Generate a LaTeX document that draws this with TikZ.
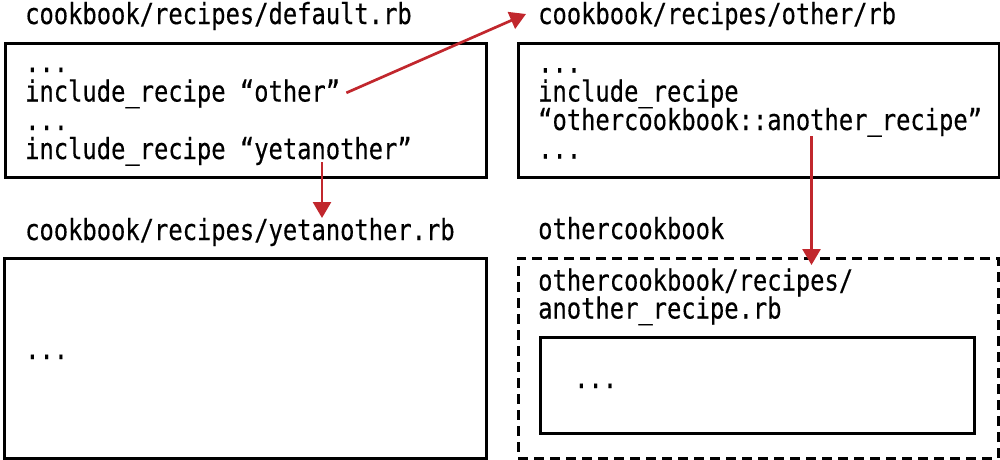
\documentclass[tikz,border=0pt]{standalone}
\usepackage{fontspec}
\setmonofont[FakeStretch=0.82, FakeBold=0.35]{DejaVu Sans Mono}
\usetikzlibrary{arrows.meta}
\definecolor{arrowred}{HTML}{C1272D}
\tikzset{
    filebox/.style={draw, rectangle, line width=3pt, anchor=north west, inner sep=0pt},
    codeline/.style={anchor=base west, inner sep=0pt, font=\ttfamily\fontsize{29}{29}\selectfont},
    recipearrow/.style={-{Triangle[length=16pt,width=18pt]}, draw=arrowred, fill=arrowred, line width=2.7pt},
}
\begin{document}
\begin{tikzpicture}[x=1pt, y=-1pt]
        \useasboundingbox (0,0) rectangle (1000,459);

        % default.rb
        % Define the nodes
        \node[codeline] (deftitle) at (25,24) {cookbook/recipes/default.rb};
        \node[filebox, minimum width=481pt, minimum height=134pt] (defbox) at (4,41.5) {};
        \node[codeline] (defdots) at (25,72) {...};
        \node[codeline] (incother) at (25,101.5) {include\_recipe “other”};
        \node[codeline] (defdotsb) at (25,130) {...};
        \node[codeline] (incyet) at (25,159) {include\_recipe “yetanother”};

        % other.rb
        % Define the nodes
        \node[codeline] (othtitle) at (538,24) {cookbook/recipes/other/rb};
        \node[filebox, minimum width=481pt, minimum height=134pt] (othbox) at (516.5,41.5) {};
        \node[codeline] (othdots) at (538,72.5) {...};
        \node[codeline] (incanother) at (538,101.5) {include\_recipe};
        \node[codeline] (anotherref) at (538,130) {“othercookbook::another\_recipe”};
        \node[codeline] (othdotsb) at (538,158.5) {...};

        % yetanother.rb
        % Define the nodes
        \node[codeline] (yettitle) at (25,240) {cookbook/recipes/yetanother.rb};
        \node[filebox, minimum width=482pt, minimum height=200pt] (yetbox) at (3,256.5) {};
        \node[codeline] (yetdots) at (25,359) {...};

        % othercookbook
        % Define the nodes
        \node[codeline] (ocbtitle) at (538,239) {othercookbook};
        \node[filebox, dash pattern=on 10pt off 6pt, minimum width=480pt, minimum height=200pt] (ocbbox) at (516.5,256.5) {};
        \node[codeline] (ocbpath) at (538,290.5) {othercookbook/recipes/};
        \node[codeline] (ocbfile) at (538,318.5) {another\_recipe.rb};
        \node[filebox, minimum width=434pt, minimum height=96pt] (anotherbox) at (538.5,335.5) {};
        \node[codeline] (anotherdots) at (574,388) {...};

        % Connect the nodes
        \coordinate (yetfrom) at (322,162);
        \coordinate (yetto) at (322,218);
        \coordinate (anotherfrom) at (811.5,136);
        \coordinate (anotherto) at (811.5,265);
        \draw[recipearrow] ([xshift=6pt,yshift=1pt]incother.east) -- ([xshift=-12pt,yshift=2pt]othtitle.west);
        \draw[recipearrow] (yetfrom) -- (yetto);
        \draw[recipearrow] (anotherfrom) -- (anotherto);
    \end{tikzpicture}
\end{document}
